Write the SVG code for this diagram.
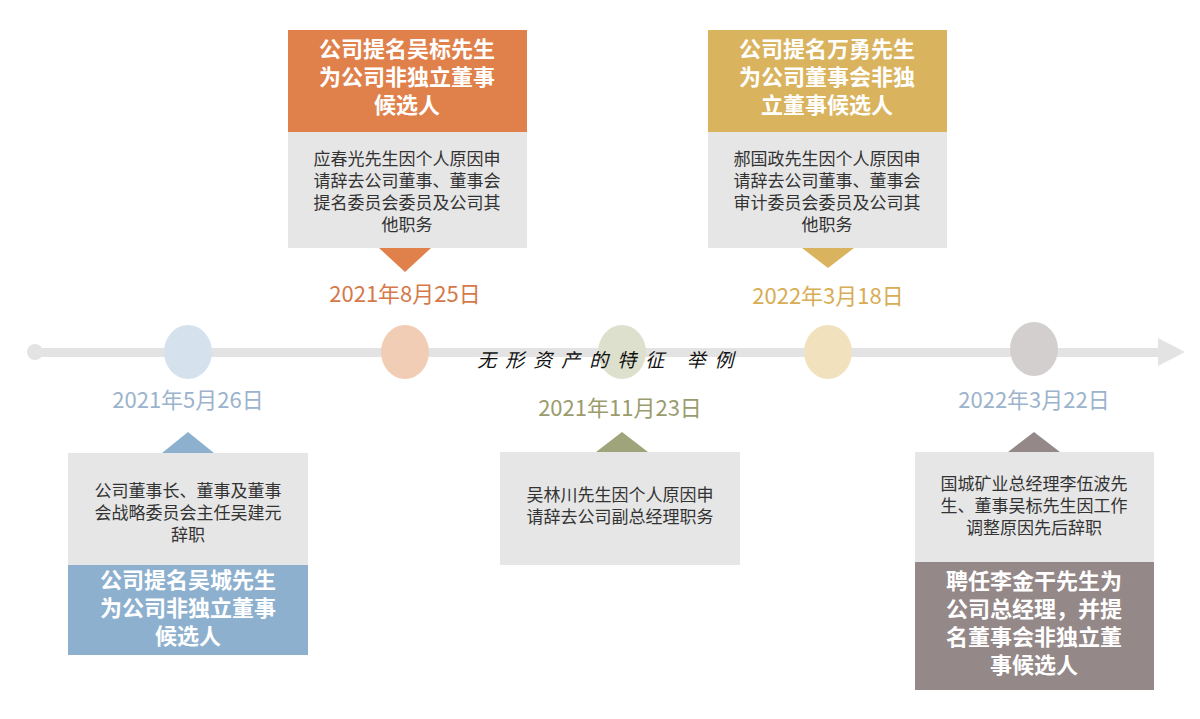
<svg xmlns="http://www.w3.org/2000/svg" width="1200" height="719" viewBox="0 0 1200 719">
<style>
text{font-family:"Noto Sans CJK SC","Noto Sans",sans-serif;text-anchor:middle}
.g{fill:#e6e6e6}
.d{font-size:22px}
.b{font-size:17px;fill:#333}
.t{font-size:22px;font-weight:bold;fill:#fff}
</style>
<rect width="1200" height="719" fill="#fff"/>
<g id="connectors">
<circle cx="35" cy="352" r="8" fill="#e3e3e3"/>
<rect x="35" y="348" width="1128" height="9" fill="#e3e3e3"/>
<polygon points="1158,338 1185,352 1158,366" fill="#e3e3e3"/>
</g>
<g id="n1">
<ellipse cx="188" cy="352" rx="24" ry="27" fill="#d6e1ee"/>
<text class="d" x="188" y="408" fill="#9bb3cc">2021年5月26日</text>
<polygon points="162,453 188,432 214,453" fill="#8db0cf"/>
<rect class="g" x="68" y="453" width="240" height="112"/>
<text class="b" x="188" y="497">公司董事长、董事及董事</text>
<text class="b" x="188" y="519">会战略委员会主任吴建元</text>
<text class="b" x="188" y="541">辞职</text>
<rect x="68" y="565" width="240" height="90" fill="#8db0cf"/>
<text class="t" x="188" y="588">公司提名吴城先生</text>
<text class="t" x="188" y="616">为公司非独立董事</text>
<text class="t" x="188" y="644">候选人</text>
</g>
<g id="n2">
<ellipse cx="405" cy="352" rx="24" ry="27" fill="#f2cdb5"/>
<text class="d" x="405" y="302" fill="#d5794a">2021年8月25日</text>
<polygon points="379,248 405,272 431,248" fill="#e0804a"/>
<rect x="288" y="30" width="239" height="102" fill="#e0804a"/>
<text class="t" x="407" y="57">公司提名吴标先生</text>
<text class="t" x="407" y="85">为公司非独立董事</text>
<text class="t" x="407" y="113">候选人</text>
<rect class="g" x="288" y="132" width="239" height="116"/>
<text class="b" x="407" y="165">应春光先生因个人原因申</text>
<text class="b" x="407" y="187">请辞去公司董事、董事会</text>
<text class="b" x="407" y="209">提名委员会委员及公司其</text>
<text class="b" x="407" y="231">他职务</text>
</g>
<g id="n3">
<ellipse cx="622" cy="352" rx="24" ry="27" fill="#dde0cc"/>
<text class="d" x="620" y="416" fill="#9a9c6e">2021年11月23日</text>
<polygon points="596,452 622,432 648,452" fill="#a0a47a"/>
<rect class="g" x="500" y="452" width="240" height="113"/>
<text class="b" x="620" y="501">吴林川先生因个人原因申</text>
<text class="b" x="620" y="523">请辞去公司副总经理职务</text>
</g>
<g id="n4">
<ellipse cx="828" cy="352" rx="24" ry="27" fill="#f1e2bd"/>
<text class="d" x="828" y="304" fill="#d8ad55">2022年3月18日</text>
<polygon points="802,248 828,268 854,248" fill="#d9b35d"/>
<rect x="708" y="30" width="239" height="102" fill="#d9b35d"/>
<text class="t" x="827" y="57">公司提名万勇先生</text>
<text class="t" x="827" y="85">为公司董事会非独</text>
<text class="t" x="827" y="113">立董事候选人</text>
<rect class="g" x="708" y="132" width="239" height="116"/>
<text class="b" x="827" y="165">郝国政先生因个人原因申</text>
<text class="b" x="827" y="187">请辞去公司董事、董事会</text>
<text class="b" x="827" y="209">审计委员会委员及公司其</text>
<text class="b" x="827" y="231">他职务</text>
</g>
<g id="n5">
<ellipse cx="1034" cy="349" rx="24" ry="27" fill="#d3cfcf"/>
<text class="d" x="1034" y="408" fill="#9bb3cc">2022年3月22日</text>
<polygon points="1008,452 1034,432 1060,452" fill="#948888"/>
<rect class="g" x="915" y="452" width="239" height="110"/>
<text class="b" x="1034" y="490">国城矿业总经理李伍波先</text>
<text class="b" x="1034" y="512">生、董事吴标先生因工作</text>
<text class="b" x="1034" y="534">调整原因先后辞职</text>
<rect x="915" y="562" width="239" height="128" fill="#948888"/>
<text class="t" x="1034" y="589">聘任李金干先生为</text>
<text class="t" x="1034" y="617">公司总经理，并提</text>
<text class="t" x="1034" y="645">名董事会非独立董</text>
<text class="t" x="1034" y="673">事候选人</text>
</g>
<g id="title"><text x="610" y="367" font-size="19" font-style="italic" letter-spacing="9" fill="#111">无形资产的特征 举例</text></g>
</svg>
